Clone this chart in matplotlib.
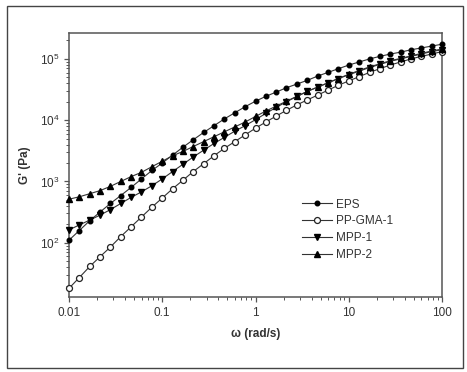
import numpy as np
import matplotlib
matplotlib.use('Agg')
import matplotlib.pyplot as plt
from matplotlib.patches import Rectangle
from matplotlib.ticker import LogLocator, NullFormatter, FixedLocator, FixedFormatter

plt.rcParams['font.family'] = ['Liberation Sans', 'DejaVu Sans']
plt.rcParams['mathtext.fontset'] = 'custom'
plt.rcParams['mathtext.rm'] = 'Liberation Sans'

# angular frequency (rad/s), 9 points per decade
omega = [0.01, 0.0129, 0.0167, 0.0215, 0.0278, 0.0359, 0.0464, 0.0599, 0.0774,
         0.1, 0.129, 0.167, 0.215, 0.278, 0.359, 0.464, 0.599, 0.774,
         1, 1.29, 1.67, 2.15, 2.78, 3.59, 4.64, 5.99, 7.74,
         10, 12.9, 16.7, 21.5, 27.8, 35.9, 46.4, 59.9, 77.4, 100]

# storage modulus G' (Pa)
g_eps = [110, 158, 229, 316, 437, 589, 800, 1100, 1510,
         2000, 2690, 3630, 4790, 6310, 8130, 10500, 13200, 16600,
         20400, 24500, 28800, 33900, 38900, 44700, 52500, 60300, 69200,
         79400, 89100, 100000, 110000, 120000, 129000, 141000, 151000, 162000, 174000]
g_ppgma = [18, 27, 41, 59, 85, 126, 182, 263, 380,
           537, 759, 1050, 1450, 1950, 2630, 3470, 4470, 5750,
           7410, 9330, 11700, 14500, 17800, 21400, 25700, 30900, 37200,
           43700, 51300, 60300, 69200, 79400, 89100, 100000, 110000, 120000, 132000]
g_mpp1 = [162, 195, 234, 282, 347, 437, 550, 676, 851,
          1100, 1450, 1910, 2510, 3240, 4170, 5250, 6610, 8130,
          10200, 12900, 16200, 20000, 24500, 29500, 34700, 40700, 47900,
          55000, 63100, 72400, 81300, 91200, 100000, 110000, 120000, 132000, 141000]
g_mpp2 = [513, 562, 631, 708, 832, 1000, 1200, 1410, 1740,
          2140, 2630, 3090, 3720, 4470, 5370, 6460, 7760, 9330,
          11500, 14100, 17000, 20400, 24500, 29500, 34700, 40700, 47900,
          56200, 64600, 74100, 83200, 93300, 102000, 112000, 123000, 135000, 145000]

series = [
    ('EPS', g_eps, dict(marker='o', ms=3.3, mfc='black', mec='black')),
    ('PP-GMA-1', g_ppgma, dict(marker='o', ms=4.3, mfc='white', mec='#222222', mew=0.9)),
    ('MPP-1', g_mpp1, dict(marker='v', ms=4.6, mfc='black', mec='black')),
    ('MPP-2', g_mpp2, dict(marker='^', ms=4.6, mfc='black', mec='black')),
]

fig = plt.figure(figsize=(4.67, 3.72), dpi=100)
fig.patch.set_facecolor('white')

# outer frame around the figure
fig.patches.append(Rectangle((7 / 467, 4 / 372), 456 / 467, 362 / 372,
                             transform=fig.transFigure, fill=False,
                             edgecolor='#444444', linewidth=1.0))

ax = fig.add_axes([69 / 467, 75 / 372, 373 / 467, 264 / 372])

for name, vals, style in series:
    ax.plot(omega, vals, color='#333333', lw=0.8, label=name, clip_on=False,
            zorder=3, **style)

ax.set_xscale('log')
ax.set_yscale('log')
ax.set_xlim(0.01, 100)
ax.set_ylim(13, 2.65e5)

ax.xaxis.set_major_locator(FixedLocator([0.01, 0.1, 1, 10, 100]))
ax.xaxis.set_major_formatter(FixedFormatter(['0.01', '0.1', '1', '10', '100']))
ax.xaxis.set_minor_locator(LogLocator(base=10, subs=np.arange(2, 10)))
ax.xaxis.set_minor_formatter(NullFormatter())
ax.yaxis.set_major_locator(FixedLocator([1e2, 1e3, 1e4, 1e5]))
ax.yaxis.set_major_formatter(FixedFormatter([r'$10^2$', r'$10^3$', r'$10^4$', r'$10^5$']))
ax.yaxis.set_minor_locator(LogLocator(base=10, subs=np.arange(2, 10)))
ax.yaxis.set_minor_formatter(NullFormatter())

for s in ax.spines.values():
    s.set_color('#555555')
    s.set_linewidth(1.1)
ax.tick_params(which='both', direction='out', color='#555555', top=False, right=False)
ax.tick_params(which='major', length=3.5, width=0.9, labelsize=8.5, labelcolor='#333333')
ax.tick_params(which='minor', length=2, width=0.7)

ax.set_xlabel('ω (rad/s)', fontsize=8.5, color='#333333', fontweight='bold', labelpad=7)
ax.set_ylabel("G' (Pa)", fontsize=8.5, color='#333333', fontweight='bold', labelpad=6)

leg = ax.legend(loc='center left', bbox_to_anchor=(0.595, 0.255), frameon=False,
                fontsize=8.5, handlelength=2.6, handletextpad=0.35, labelspacing=0.4)
for t in leg.get_texts():
    t.set_color('#333333')

fig.savefig('out.png', dpi=100)
